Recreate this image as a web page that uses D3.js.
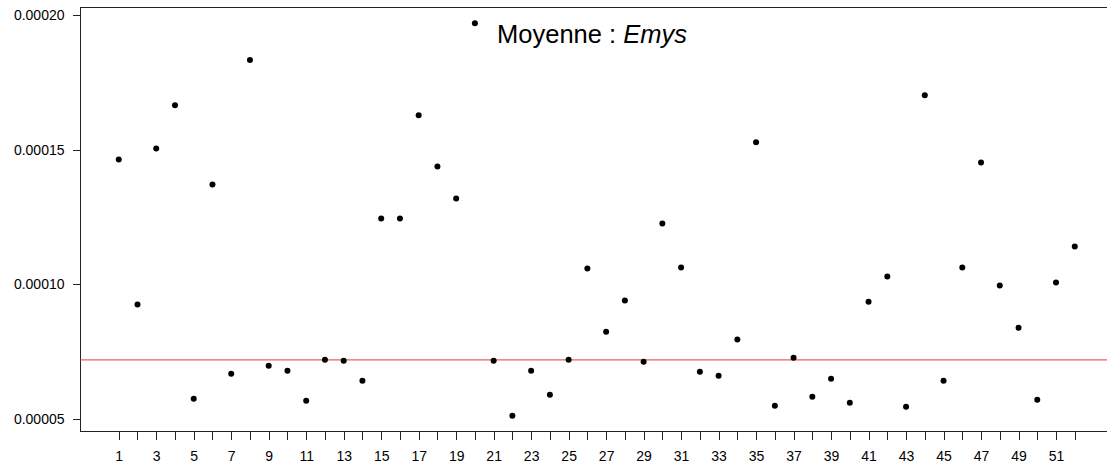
<!DOCTYPE html>
<html>
<meta charset="utf-8">
<head>
<style>
body { margin: 0; background: #fff; }
.axis text { font: 14px "Liberation Sans", Arial, sans-serif; fill: #000; }
.axis line { stroke: #222; shape-rendering: crispEdges; }
path.domain { opacity: 0; }
.frame { fill: none; stroke: #222; shape-rendering: crispEdges; }
.title { font: 25.5px "Liberation Sans", Arial, sans-serif; }
</style>
</head>
<body>
<svg width="1107" height="468"></svg>
<script src="https://d3js.org/d3.v7.min.js"></script>
<script>

// weekly means, week 1..52
var weeks = d3.range(1, 53);
var means = [
  0.0001464, 0.0000925, 0.0001505, 0.0001665, 0.0000575, 0.0001371, 0.0000668, 0.0001833,
  0.0000698, 0.0000679, 0.0000568, 0.0000720, 0.0000716, 0.0000642, 0.0001245, 0.0001245,
  0.0001628, 0.0001438, 0.0001319, 0.0001970, 0.0000716, 0.0000512, 0.0000679, 0.0000590,
  0.0000720, 0.0001059, 0.0000824, 0.0000940, 0.0000713, 0.0001226, 0.0001063, 0.0000676,
  0.0000661, 0.0000795, 0.0001528, 0.0000549, 0.0000728, 0.0000583, 0.0000650, 0.0000560,
  0.0000936, 0.0001029, 0.0000546, 0.0001702, 0.0000642, 0.0001063, 0.0001453, 0.0000996,
  0.0000839, 0.0000572, 0.0001007, 0.0001141
];
var overallMean = 0.0000720;
var yTicks = [0.00005, 0.00010, 0.00015, 0.00020];

var svg = d3.select("svg");

// R style 4% padding on both axes
var xr = 51 * 0.04, yr = (d3.max(means) - d3.min(means)) * 0.04;
var x = d3.scaleLinear().domain([1 - xr, 52 + xr]).range([80.5, 1113]);
var y = d3.scaleLinear().domain([d3.min(means) - yr, d3.max(means) + yr]).range([431.5, 7.5]);

svg.append("rect")
  .attr("class", "frame")
  .attr("x", x.range()[0])
  .attr("y", y.range()[1])
  .attr("width", x.range()[1] - x.range()[0])
  .attr("height", y.range()[0] - y.range()[1]);

var xAxis = d3.axisBottom(x)
  .tickValues(weeks)
  .tickSize(8)
  .tickPadding(12)
  .tickFormat(function(d) { return d % 2 == 1 ? d : ""; });

svg.append("g")
  .attr("class", "axis")
  .attr("transform", "translate(0," + y.range()[0] + ")")
  .call(xAxis);

var yAxis = d3.axisLeft(y)
  .tickValues(yTicks)
  .tickSize(8)
  .tickPadding(8)
  .tickFormat(d3.format(".5f"));

svg.append("g")
  .attr("class", "axis")
  .attr("transform", "translate(" + x.range()[0] + ",0)")
  .call(yAxis);

// mean line
svg.append("line")
  .attr("x1", x.range()[0])
  .attr("x2", x.range()[1])
  .attr("y1", y(overallMean))
  .attr("y2", y(overallMean))
  .attr("stroke", "#ee5f5f")
  .attr("stroke-width", 1.2);

svg.append("g")
  .selectAll("circle")
  .data(means)
  .enter().append("circle")
  .attr("cx", function(d, i) { return x(weeks[i]); })
  .attr("cy", function(d) { return y(d); })
  .attr("r", 3)
  .attr("fill", "#000");

var title = svg.append("text")
  .attr("class", "title")
  .attr("x", 592)
  .attr("y", 43)
  .attr("text-anchor", "middle");
title.append("tspan").text("Moyenne : ");
title.append("tspan").attr("font-style", "italic").text("Emys");

</script>
</body>
</html>
